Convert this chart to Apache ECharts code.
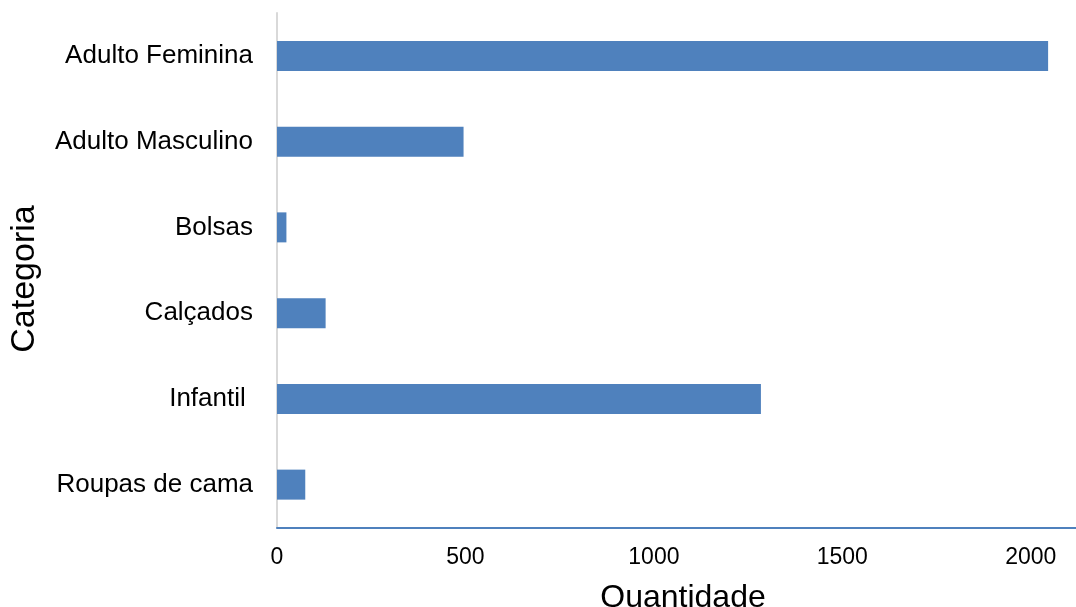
<!DOCTYPE html>
<html>
<head>
<meta charset="utf-8">
<script src="https://cdn.jsdelivr.net/npm/echarts@6/dist/echarts.min.js"></script>
<style>
html,body{margin:0;padding:0;background:#fff;}
#chart{width:1076px;height:607px;}
</style>
</head>
<body>
<div id="chart"></div>
<script>
const categories = ["Adulto Feminina", "Adulto Masculino", "Bolsas", "Calçados", "Infantil ", "Roupas de cama"];
const quantidade = [2046, 495, 25, 129, 1284, 75];
const xTicks = [0, 500, 1000, 1500, 2000];
const xAxisTitle = "Quantidade";
const yAxisTitle = "Categoria";

const FONT = "'Liberation Sans', Arial, sans-serif";
const chart = echarts.init(document.getElementById('chart'), null, {renderer: 'canvas'});
chart.setOption({
  animation: false,
  backgroundColor: '#ffffff',
  grid: {left: 277, right: 0, top: 13, bottom: 79.5, containLabel: false},
  xAxis: {
    type: 'value',
    min: xTicks[0],
    max: 2120,
    interval: xTicks[1] - xTicks[0],
    splitLine: {show: false},
    axisTick: {show: false},
    axisLine: {show: true, lineStyle: {color: '#4F81BD', width: 2}},
    axisLabel: {
      show: true, showMaxLabel: false, margin: 19,
      color: '#000', fontSize: 23, fontFamily: FONT,
      formatter: v => xTicks.includes(v) ? String(v) : ''
    }
  },
  yAxis: {
    type: 'category',
    data: categories,
    inverse: true,
    axisTick: {show: false},
    axisLine: {show: true, lineStyle: {color: '#D9D9D9', width: 2}},
    axisLabel: {margin: 24, color: '#000', fontSize: 26, fontFamily: FONT},
    splitLine: {show: false}
  },
  series: [{
    type: 'bar',
    data: quantidade,
    barWidth: 30,
    itemStyle: {color: '#4F81BD'}
  }],
  graphic: [
    {type: 'text', x: 683, y: 582, style: {text: xAxisTitle, font: "32px " + FONT, fill: '#000', textAlign: 'center', textVerticalAlign: 'top'}},
    {type: 'text', x: 25, y: 279, rotation: Math.PI / 2, style: {text: yAxisTitle, font: "34px " + FONT, fill: '#000', textAlign: 'center', textVerticalAlign: 'middle'}}
  ]
});
</script>
</body>
</html>
